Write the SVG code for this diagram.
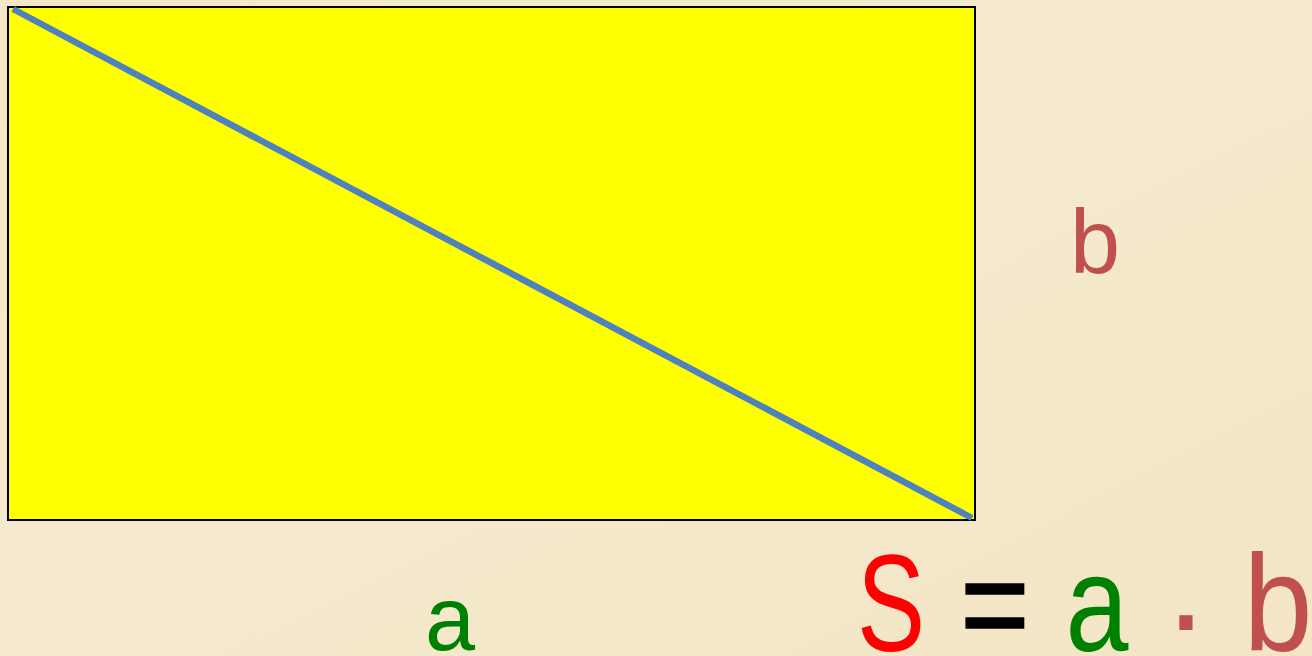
<svg xmlns="http://www.w3.org/2000/svg" width="1312" height="656" viewBox="0 0 1312 656">
<style>
.lbl{font-family:"Liberation Sans",Arial,sans-serif;text-anchor:middle}
.sm{font-size:90px}
.big{font-size:138px}
.red{fill:#FF0000}
.grn{fill:#008000}
.brn{fill:#C0504D}
.blk{fill:#000000}
</style>
<defs>
<linearGradient id="bg" x1="0" y1="0" x2="1" y2="1">
<stop offset="0" stop-color="#F4E7C8"/>
<stop offset="0.5" stop-color="#F5EACE"/>
<stop offset="1" stop-color="#F3E5C5"/>
</linearGradient>
</defs>
<rect x="0" y="0" width="1312" height="656" fill="url(#bg)"/>
<g id="rectangle">
<rect x="8" y="7" width="967" height="513" fill="#FFFF00" stroke="#000000" stroke-width="2"/>
</g>
<g id="connectors">
<line x1="13" y1="9" x2="972" y2="518" stroke="#4F81BD" stroke-width="6.5"/>
</g>
<g id="label-b">
<text class="lbl sm brn" x="1095" y="273">b</text>
</g>
<g id="label-a">
<text class="lbl sm grn" x="450" y="650">a</text>
</g>
<g id="formula">
<text class="lbl big red" transform="translate(891,651) scale(0.74,1)">S</text>
<text class="lbl big blk" stroke="#000" stroke-width="1.5" transform="translate(995,651) scale(0.86,1)">=</text>
<text class="lbl big grn" transform="translate(1097,651) scale(0.82,1)">a</text>
<text class="lbl big brn" transform="translate(1186,660)">·</text>
<text class="lbl big brn" transform="translate(1278,651) scale(0.9,1)">b</text>
</g>
</svg>
